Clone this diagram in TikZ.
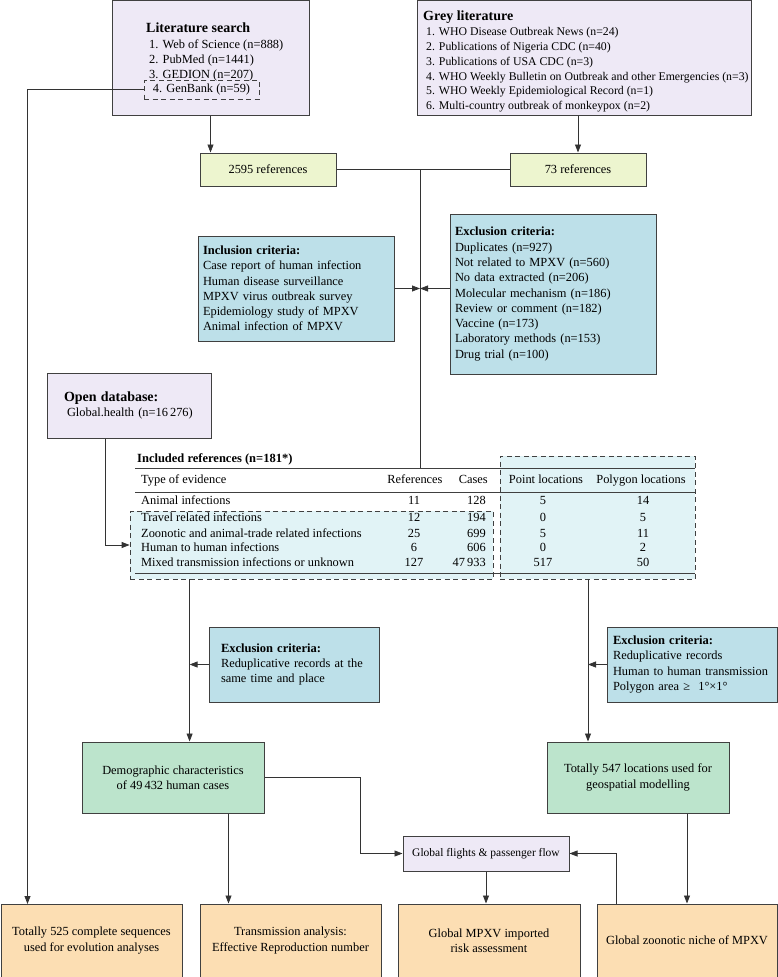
\documentclass[tikz,border=0pt]{standalone}
\usepackage{fontspec}
\setmainfont{Liberation Serif}
\usepackage{tikz}
\usetikzlibrary{arrows.meta, positioning, calc}
\definecolor{edgegray}{HTML}{404040}
\definecolor{linegray}{HTML}{333333}
\definecolor{lavender}{HTML}{EEE9F6}
\definecolor{limepale}{HTML}{EDF5CF}
\definecolor{critblue}{HTML}{BDE0E9}
\definecolor{tablecyan}{HTML}{E1F3F6}
\definecolor{mintgreen}{HTML}{BCE4CC}
\definecolor{peach}{HTML}{FCDEB3}
\newcommand{\bodyfont}{\fontsize{12.4}{15.3}\selectfont}
\newcommand{\greyfont}{\fontsize{11.8}{14.8}\selectfont}
\newcommand{\headfont}{\fontsize{14}{15.3}\selectfont\bfseries}
\newcommand{\subhead}{\fontsize{12.5}{15.3}\selectfont\bfseries}
\newcommand{\listgap}{\hspace*{3pt}}

\begin{document}
\begin{tikzpicture}[
    x=1pt, y=-1pt,
    box/.style={rectangle, draw=edgegray, line width=1pt, align=center, font=\bodyfont, inner sep=0pt},
    crit/.style={box, fill=critblue, align=left},
    refbox/.style={box, fill=limepale, minimum width=136, minimum height=33},
    result/.style={box, fill=mintgreen, minimum width=182, minimum height=71},
    outbox/.style={box, fill=peach, minimum width=181, minimum height=73},
    dashbox/.style={rectangle, draw=edgegray, dash pattern=on 5pt off 3.5pt, line width=0.8pt, inner sep=0pt},
    cell/.style={inner sep=0pt, font=\bodyfont},
    tabrule/.style={draw=edgegray, line width=0.8pt},
    link/.style={draw=linegray, line width=0.8pt},
    arrow/.style={link, -{Triangle[length=8pt, width=6pt]}}
]
\useasboundingbox (0,0) rectangle (778,977);

% Sources
\node[box, fill=lavender, minimum width=197, minimum height=114.5] (litsearch) at (210.5,57.75) {};
\node[cell, anchor=north west, align=left] (littext) at (146,23) {{\headfont Literature search}\\ \listgap 1. Web of Science (n=888)\\ \listgap 2. PubMed (n=1441)\\ \listgap 3. GEDION (n=207)};
\node[dashbox, minimum width=115, minimum height=19, font=\bodyfont] (genbank) at (201.5,89.5) {4. GenBank (n=59)};

\node[box, fill=lavender, minimum width=334, minimum height=114.5] (greylit) at (584,57.75) {};
\node[cell, anchor=north west, align=left, font=\greyfont] (greytext) at (423,11) {{\headfont Grey literature}\\ \listgap 1. WHO Disease Outbreak News (n=24)\\ \listgap 2. Publications of Nigeria CDC (n=40)\\ \listgap 3. Publications of USA CDC (n=3)\\ \listgap 4. WHO Weekly Bulletin on Outbreak and other Emergencies (n=3)\\ \listgap 5. WHO Weekly Epidemiological Record (n=1)\\ \listgap 6. Multi-country outbreak of monkeypox (n=2)};

\node[refbox] (refs1) at (268,169.5) {2595 references};
\node[refbox] (refs2) at (578,169.5) {73 references};

\draw[arrow] (litsearch.south) -- (litsearch.south |- refs1.north);
\draw[arrow] (refs2.north |- greylit.south) -- (refs2.north);

% Screening
\node[crit, minimum width=196, minimum height=105, text width=186, inner xsep=5] (incl) at (296,288.5) {{\subhead Inclusion criteria:}\\ Case report of human infection\\ Human disease surveillance\\ MPXV virus outbreak survey\\ Epidemiology study of MPXV\\ Animal infection of MPXV};
\node[crit, minimum width=206, minimum height=160, text width=196, inner xsep=5] (excl) at (553,294) {{\subhead Exclusion criteria:}\\ Duplicates (n=927)\\ Not related to MPXV (n=560)\\ No data extracted (n=206)\\ Molecular mechanism (n=186)\\ Review or comment (n=182)\\ Vaccine (n=173)\\ Laboratory methods (n=153)\\ Drug trial (n=100)};

\coordinate (tabtop) at (420,468);
\draw[link] (refs1.east) -- (refs2.west);
\draw[link] (refs1.east -| tabtop) -- (tabtop);
\draw[arrow] (incl.east) -- (incl.east -| tabtop);
\draw[arrow] (excl.west |- incl.east) -- (incl.east -| tabtop);

\node[box, fill=lavender, minimum width=164, minimum height=65, align=left, text width=130, inner xsep=17] (opendb) at (129,405.5) {{\headfont Open database:}\\ \listgap Global.health (n=16\,276)};

% Included references table
\node[dashbox, fill=tablecyan, minimum width=363, minimum height=68] (tabL) at (311.5,545) {};
\node[dashbox, fill=tablecyan, minimum width=195, minimum height=123] (tabR) at (597.5,517.5) {};
\draw[tabrule] (135,468) -- (695,468);
\draw[tabrule] (135,492) -- (695,492);
\draw[tabrule] (135,573) -- (695,573);

\node[cell, anchor=mid west, font=\subhead] (tabtitle) at (137,460) {Included references (n=181*)};
\node[cell, anchor=mid west] (hType) at (141,481) {Type of evidence};
\node[cell, anchor=mid] (hRefs) at (415,481) {References};
\node[cell, anchor=mid east] (hCases) at (488,481) {Cases};
\node[cell, anchor=mid] (hPoint) at (546,481) {Point locations};
\node[cell, anchor=mid] (hPoly) at (641,481) {Polygon locations};

\node[cell, anchor=mid west] (tAnimal) at (141,502) {Animal infections};
\node[cell, anchor=mid] (rAnimal) at (414,502) {11};
\node[cell, anchor=mid east] (cAnimal) at (486,502) {128};
\node[cell, anchor=mid] (pAnimal) at (543,502) {5};
\node[cell, anchor=mid] (gAnimal) at (643,502) {14};

\node[cell, anchor=mid west] (tTravel) at (141,519.5) {Travel related infections};
\node[cell, anchor=mid] (rTravel) at (414,519.5) {12};
\node[cell, anchor=mid east] (cTravel) at (486,519.5) {194};
\node[cell, anchor=mid] (pTravel) at (543,519.5) {0};
\node[cell, anchor=mid] (gTravel) at (643,519.5) {5};

\node[cell, anchor=mid west] (tZoo) at (141,535) {Zoonotic and animal-trade related infections};
\node[cell, anchor=mid] (rZoo) at (414,535) {25};
\node[cell, anchor=mid east] (cZoo) at (486,535) {699};
\node[cell, anchor=mid] (pZoo) at (543,535) {5};
\node[cell, anchor=mid] (gZoo) at (643,535) {11};

\node[cell, anchor=mid west] (tHuman) at (141,549.5) {Human to human infections};
\node[cell, anchor=mid] (rHuman) at (414,549.5) {6};
\node[cell, anchor=mid east] (cHuman) at (486,549.5) {606};
\node[cell, anchor=mid] (pHuman) at (543,549.5) {0};
\node[cell, anchor=mid] (gHuman) at (643,549.5) {2};

\node[cell, anchor=mid west] (tMixed) at (141,564) {Mixed transmission infections or unknown};
\node[cell, anchor=mid] (rMixed) at (414,564) {127};
\node[cell, anchor=mid east] (cMixed) at (486,564) {47\,933};
\node[cell, anchor=mid] (pMixed) at (543,564) {517};
\node[cell, anchor=mid] (gMixed) at (643,564) {50};

\draw[arrow] ($(opendb.south west)+(59,0)$) |- (tabL.west);

% Second screening
\node[crit, minimum width=170, minimum height=75, text width=146, inner xsep=12] (excl2) at (294,664.5) {{\subhead Exclusion criteria:}\\ Reduplicative records at the\\ same time and place};
\node[crit, minimum width=170, minimum height=75, text width=158, inner xsep=6] (excl3) at (692,664.5) {{\subhead Exclusion criteria:}\\ Reduplicative records\\ Human to human transmission\\ Polygon area ≥~ 1°×1°};

\node[result] (demo) at (173,777.5) {Demographic characteristics\\of 49\,432 human cases};
\node[result] (locs) at (638,777.5) {Totally 547 locations used for\\geospatial modelling};

\coordinate (leftdrop) at ($(tabL.south west)+(60,0)$);
\coordinate (rightdrop) at ($(tabR.south)+(-9.5,0)$);
\draw[arrow] (leftdrop) -- (leftdrop |- demo.north);
\draw[arrow] (excl2.west) -- (excl2.west -| leftdrop);
\draw[arrow] (rightdrop) -- (rightdrop |- locs.north);
\draw[arrow] (excl3.west) -- (excl3.west -| rightdrop);

% Outputs
\node[box, fill=lavender, minimum width=166, minimum height=35, font=\fontsize{11.5}{14}\selectfont] (flights) at (486,853.5) {Global flights \& passenger flow};

\node[outbox] (seqs) at (91.5,940.5) {Totally 525 complete sequences\\used for evolution analyses};
\node[outbox] (trans) at (290.5,940.5) {Transmission analysis:\\Effective Reproduction number};
\node[outbox, minimum width=182] (risk) at (489,940.5) {Global MPXV imported\\risk assessment};
\node[outbox, minimum width=180] (niche) at (687,940.5) {Global zoonotic niche of MPXV};

\coordinate (seqin) at (27.5,904);
\draw[arrow] (genbank.west) -| (seqin);
\coordinate (demodrop) at ($(demo.south east)+(-36,0)$);
\draw[arrow] (demodrop) -- (demodrop |- trans.north);
\draw[arrow] (demo.east) -- ++(96,0) |- (flights.west);
\draw[arrow] (flights.south) -- (flights.south |- risk.north);
\draw[arrow] (locs.south -| niche.north) -- (niche.north);
\draw[arrow] ($(niche.north west)+(20,0)$) |- (flights.east);

\end{tikzpicture}
\end{document}
